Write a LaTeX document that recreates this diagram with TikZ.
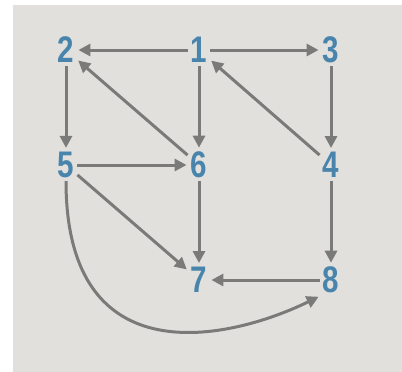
\documentclass[tikz,border=0pt]{standalone}
\usepackage{fontspec}
\usetikzlibrary{arrows.meta}
\newfontfamily\numfont[FakeStretch=0.8]{Liberation Sans}
\definecolor{paper}{RGB}{225,224,220}
\definecolor{numblue}{RGB}{72,132,172}
\definecolor{edgegray}{RGB}{122,122,120}

\begin{document}
\begin{tikzpicture}[x=1pt,y=-1pt,
	num/.style={inner sep=3pt, text=numblue, font=\numfont\bfseries\fontsize{37}{37}\selectfont},
	edge/.style={draw=edgegray, line width=3pt, -{Triangle[length=12pt,width=12pt]}, shorten >=1pt}]
	\useasboundingbox (0,0) rectangle (402,372);
	\fill[paper] (13,5) rectangle (402,372);

	\node[num] (n1) at (199,50) {1};
	\node[num] (n2) at (66,50) {2};
	\node[num] (n3) at (331,50) {3};
	\node[num] (n5) at (66,165) {5};
	\node[num] (n6) at (199,165) {6};
	\node[num] (n4) at (331,165) {4};
	\node[num] (n7) at (199,280) {7};
	\node[num] (n8) at (331,280) {8};

	\draw[edge] (n1) -- (n2);
	\draw[edge] (n1) -- (n3);
	\draw[edge] (n1) -- (n6);
	\draw[edge] (n2) -- (n5);
	\draw[edge] (n3) -- (n4);
	\draw[edge] (n6) -- (n2);
	\draw[edge] (n4) -- (n1);
	\draw[edge] (n5) -- (n6);
	\draw[edge] (n5) -- (n7);
	\draw[edge] (n6) -- (n7);
	\draw[edge] (n4) -- (n8);
	\draw[edge] (n8) -- (n7);
	\draw[edge] (n5.south) .. controls (66,378) and (230,340) .. (n8.south west);

\end{tikzpicture}
\end{document}
